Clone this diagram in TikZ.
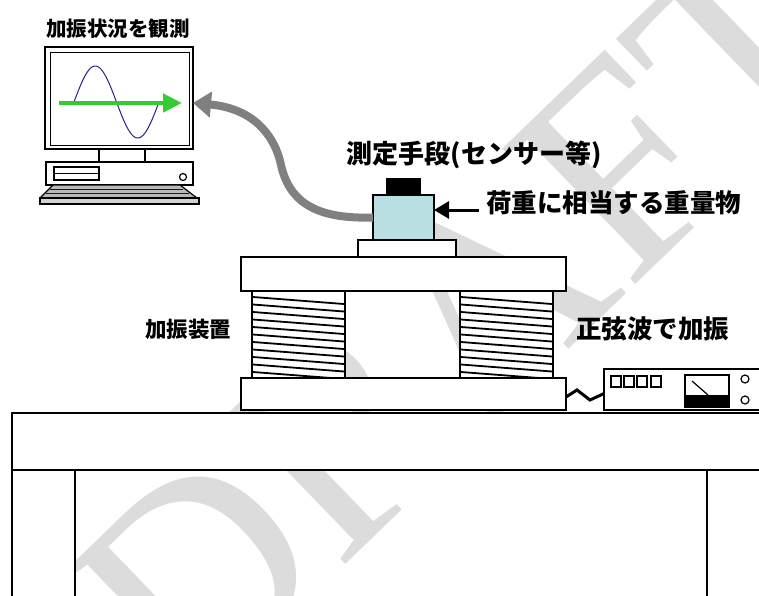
\documentclass[tikz,border=0pt]{standalone}
\usepackage{fontspec}
\newfontfamily\jp{Noto Sans CJK JP}
\newfontfamily\wmserif{Liberation Serif}
\usepackage{xcolor}
\definecolor{sens}{HTML}{B9DFE3}
\definecolor{cab}{HTML}{808080}
\definecolor{wave}{HTML}{22228C}
\definecolor{grn}{HTML}{33CC33}
\definecolor{wmark}{HTML}{DCDCDC}
\usetikzlibrary{arrows.meta,positioning,calc}
\tikzset{
  part/.style={draw,line width=2pt,fill=white,inner sep=0pt,outer sep=0pt},
  lab/.style={font=\jp\bfseries\fontsize{#1}{#1}\selectfont,inner sep=0pt},
  lab/.default=25.5,
  coil/.style={line width=1.8pt},
  thinline/.style={line width=1.2pt},
  cable/.style={-{Triangle[length=18pt,width=25pt]},draw=cab,line width=8pt},
  load/.style={-{Triangle[length=15pt,width=17pt]},line width=3pt},
  wire/.style={line width=3pt,line join=miter},
}

\begin{document}
\begin{tikzpicture}[x=1pt,y=-1pt]
\useasboundingbox (0,0) rectangle (759,595);
\node[text=wmark,font=\wmserif\fontsize{290}{290}\selectfont,rotate=44,anchor=base west,inner sep=0pt] (wm) at (188,717) {DRAFT};
% monitor and pc
\node[part,minimum width=148pt,minimum height=102pt] (monitor) at (119,98) {};
\draw[line width=1pt] (50,52) rectangle (189,145);
\draw[part] (99,149) rectangle (145,162);
\node[part,minimum width=147pt,minimum height=23pt] (pc) at (119.5,173.5) {};
\draw[thinline] (54,167) rectangle (99,180) (54,173.5) -- (99,173.5); \draw[thinline] (183,177) circle (3.5pt);
\draw[thinline,fill=gray!55] (53,185) -- (180,185) -- (197,198) -- (40,198) -- cycle;
\draw[line width=1pt,draw=gray!20!black] (50,189) -- (183,189) (46,193) -- (189,193);
\draw[thinline,fill=gray!35] (40,198) rectangle (199,204);
\draw[wave,line width=1pt] plot[domain=74:159,samples=60] (\x,{102-36*sin((\x-74)/85*360)});
\draw[-{Triangle[length=19pt,width=18pt]},draw=grn,line width=4.5pt] (59,103) -- (182,103);
% shaker with sensor on top
\node[part,fill=black,minimum width=33pt,minimum height=16pt] (mass) at (403.5,187) {};
\node[part,fill=sens,minimum width=61pt,minimum height=45pt] (sensor) at (403.5,217.5) {};
\node[part,minimum width=98pt,minimum height=17pt] (pad) at (406.5,248.5) {};
\node[part,minimum width=93pt,minimum height=87pt] (coilL) at (298.5,334.5) {};
\node[part,minimum width=93pt,minimum height=87pt] (coilR) at (506.5,334.5) {};
\foreach \i in {0,...,10}{
  \draw[coil] (253,{297+7.5*\i}) -- (344,{304+7.5*\i});
  \draw[coil] (461,{297+7.5*\i}) -- (552,{304+7.5*\i});
}
\node[part,minimum width=325pt,minimum height=34pt] (topplate) at (403.5,274) {};
\node[part,minimum width=325pt,minimum height=32pt] (base) at (403.5,394) {};
% table
\draw[part] (12,413) rectangle (790,470);
\draw[part] (12,470) rectangle (75,600) (707,470) rectangle (790,600);
% signal generator
\node[part,minimum width=170pt,minimum height=41pt,anchor=west] (gen) at (604,389.5) {};
\foreach \x in {611,624,637,651} \draw[thinline] (\x,376) rectangle ++(10,11);
\draw[thinline] (685,375) rectangle (729,407); \fill (685,395) rectangle (729,407); \draw[thinline] (692,381) -- (708,395);
\draw[thinline] (745,379) circle (4pt) (745,400) circle (4pt);
% labels
\node[lab=20.5] (obslbl) at (118,28.5) {加振状況を観測};
\node[lab=26] (senslbl) at (474,155) {測定手段(センサー等)};
\node[lab] (loadlbl) at (613.5,202.5) {荷重に相当する重量物};
\node[lab=21.5] (shklbl) at (188,329.5) {加振装置};
\node[lab] (sinlbl) at (652.5,328.5) {正弦波で加振};
% connectors
\coordinate (loadtail) at (479,210);
\draw[load] (loadtail) -- (sensor.east |- loadtail);
\draw[wire] ([yshift=-3pt]base.east) -- ++(11,-7) -- ++(13,10) -- ([yshift=-4pt]gen.west);
\draw[cable] (sensor.west) .. controls (320,219) and (290,205) .. (281,165) .. controls (274,132) and (250,108) .. ([yshift=-5pt]monitor.east);
\end{tikzpicture}
\end{document}
